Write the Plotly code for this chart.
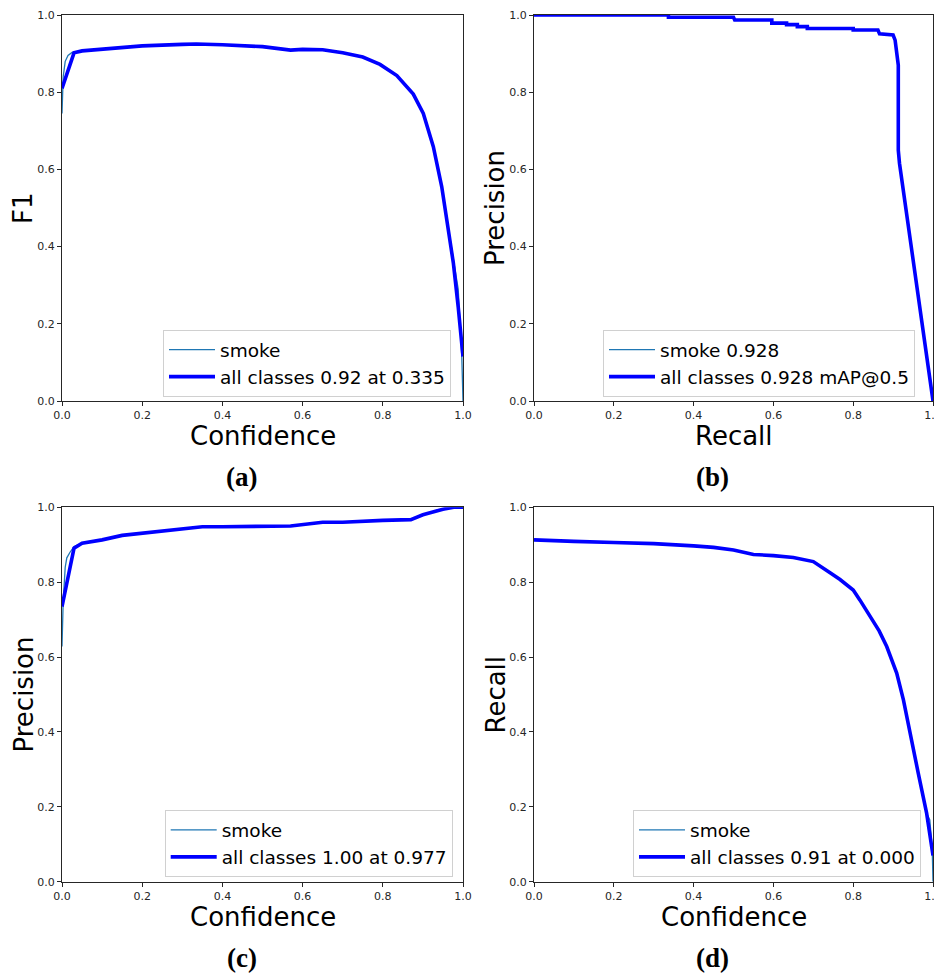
import plotly.graph_objects as go

# ---------------- data ----------------
# (a) F1 - Confidence
conf_a_all = [0, 0.03, 0.05, 0.1, 0.2, 0.3, 0.335, 0.4, 0.5, 0.57, 0.6, 0.65, 0.7, 0.75, 0.793,
              0.835, 0.876, 0.901, 0.926, 0.947, 0.963, 0.976, 0.988, 0.999, 1.0]
f1_all = [0.81, 0.902, 0.907, 0.912, 0.92, 0.924, 0.925, 0.923, 0.918, 0.909, 0.911, 0.91, 0.902, 0.891, 0.872,
          0.843, 0.795, 0.745, 0.659, 0.555, 0.452, 0.357, 0.244, 0.118, 0.115]
conf_a_smoke = [0, 0.003, 0.008, 0.015, 0.025, 0.035, 0.05, 0.1, 0.2, 0.3, 0.335, 0.4, 0.5, 0.57, 0.6, 0.65,
                0.7, 0.75, 0.793, 0.835, 0.876, 0.901, 0.926, 0.947, 0.963, 0.976, 0.988, 0.997, 1.0]
f1_smoke = [0.745, 0.84, 0.88, 0.895, 0.903, 0.905, 0.907, 0.912, 0.92, 0.924, 0.925, 0.923, 0.918, 0.909, 0.911,
            0.91, 0.902, 0.891, 0.872, 0.843, 0.795, 0.748, 0.659, 0.555, 0.452, 0.36, 0.29, 0.115, 0.0]

# (b) Precision - Recall
recall_b = [0, 0.337, 0.337, 0.5, 0.503, 0.596, 0.596, 0.633, 0.633, 0.66, 0.66, 0.685, 0.685, 0.8, 0.8,
            0.862, 0.866, 0.9, 0.905, 0.909, 0.911, 0.913, 0.913, 0.916, 1.0]
precision_b = [1.0, 1.0, 0.994, 0.994, 0.987, 0.987, 0.979, 0.979, 0.975, 0.975, 0.97, 0.97, 0.965, 0.965, 0.961,
               0.961, 0.951, 0.948, 0.935, 0.9, 0.883, 0.87, 0.65, 0.616, 0.0]

# (c) Precision - Confidence
conf_c_all = [0, 0.03, 0.05, 0.1, 0.15, 0.2, 0.3, 0.35, 0.4, 0.5, 0.57, 0.65, 0.7, 0.8, 0.85, 0.87, 0.9,
              0.95, 0.977, 1.0]
prec_all = [0.735, 0.891, 0.904, 0.913, 0.925, 0.931, 0.944, 0.948, 0.948, 0.95, 0.95, 0.96, 0.96, 0.965, 0.965,
            0.967, 0.98, 0.995, 1.0, 1.0]
conf_c_smoke = [0, 0.003, 0.008, 0.012, 0.02, 0.03, 0.05, 0.1, 0.15, 0.2, 0.3, 0.35, 0.4, 0.5, 0.57, 0.65, 0.7,
                0.8, 0.85, 0.87, 0.9, 0.95, 0.977, 1.0]
prec_smoke = [0.628, 0.75, 0.84, 0.865, 0.88, 0.895, 0.904, 0.913, 0.925, 0.931, 0.944, 0.948, 0.948, 0.95, 0.95,
              0.96, 0.96, 0.965, 0.965, 0.967, 0.98, 0.995, 1.0, 1.0]

# (d) Recall - Confidence
conf_d_all = [0, 0.05, 0.1, 0.2, 0.3, 0.4, 0.45, 0.5, 0.55, 0.6, 0.65, 0.7, 0.72, 0.742, 0.767, 0.8, 0.817,
              0.842, 0.865, 0.884, 0.909, 0.926, 0.942, 0.963, 0.984, 1.0]
rec_all = [0.913, 0.91, 0.909, 0.906, 0.903, 0.897, 0.893, 0.886, 0.874, 0.871, 0.866, 0.855, 0.842, 0.825, 0.807,
           0.779, 0.752, 0.708, 0.67, 0.628, 0.557, 0.485, 0.396, 0.29, 0.183, 0.07]
conf_d_smoke = [0, 0.05, 0.1, 0.2, 0.3, 0.4, 0.45, 0.5, 0.55, 0.6, 0.65, 0.7, 0.72, 0.742, 0.767, 0.8, 0.817,
                0.842, 0.865, 0.884, 0.909, 0.926, 0.942, 0.963, 0.984, 0.992, 0.998, 1.0]
rec_smoke = [0.913, 0.91, 0.909, 0.906, 0.903, 0.897, 0.893, 0.886, 0.874, 0.871, 0.866, 0.855, 0.842, 0.825, 0.807,
             0.779, 0.752, 0.708, 0.67, 0.628, 0.557, 0.485, 0.396, 0.29, 0.183, 0.165, 0.09, 0.0]

legend_labels = {
    "a": ("smoke", "all classes 0.92 at 0.335"),
    "b": ("smoke 0.928", "all classes 0.928 mAP@0.5"),
    "c": ("smoke", "all classes 1.00 at 0.977"),
    "d": ("smoke", "all classes 0.91 at 0.000"),
}
x_titles = {"a": "Confidence", "b": "Recall", "c": "Confidence", "d": "Confidence"}
y_titles = {"a": "F1", "b": "Precision", "c": "Precision", "d": "Recall"}
captions = {"a": "(a)", "b": "(b)", "c": "(c)", "d": "(d)"}
tick_vals = [0.0, 0.2, 0.4, 0.6, 0.8, 1.0]

# ---------------- layout ----------------
W, H = 942, 973
OFF = 8  # page body margin: the figure starts 8 px in from the window edge
SMOKE_C = "#1f77b4"
ALL_C = "#0000ff"
INK = "#262626"


def px(x):
    return (x - OFF) / W


def py(y):
    return 1 - (y - OFF) / H


# window-pixel boxes of each axes: left, right, top, bottom
boxes = {
    "a": (62, 463, 15, 401),
    "b": (534, 933, 15, 401),
    "c": (62, 463, 507.3, 881.7),
    "d": (534, 933, 507.3, 881.7),
}
legend_pos = {  # right edge, bottom edge in window px
    "a": (451, 397),
    "b": (915, 397),
    "c": (452.7, 877.3),
    "d": (921, 877.3),
}

series = {
    "a": (conf_a_smoke, f1_smoke, conf_a_all, f1_all),
    "b": (recall_b, precision_b, recall_b, precision_b),
    "c": (conf_c_smoke, prec_smoke, conf_c_all, prec_all),
    "d": (conf_d_smoke, rec_smoke, conf_d_all, rec_all),
}

fig = go.Figure()
annotations = []
layout = dict(
    width=W, height=H, margin=dict(l=0, r=0, t=0, b=0, autoexpand=False),
    paper_bgcolor="white", plot_bgcolor="white",
    font=dict(family="DejaVu Sans", color=INK),
    showlegend=True,
)

for i, key in enumerate(["a", "b", "c", "d"]):
    n = "" if i == 0 else str(i + 1)
    xs, ys, xa, ya = series[key]
    leg = "legend" + n
    fig.add_trace(go.Scatter(x=xs, y=ys, mode="lines", name=legend_labels[key][0],
                             line=dict(color=SMOKE_C, width=1.3), xaxis="x" + n, yaxis="y" + n,
                             legend=leg, hoverinfo="skip"))
    fig.add_trace(go.Scatter(x=xa, y=ya, mode="lines", name=legend_labels[key][1],
                             line=dict(color=ALL_C, width=3.6), xaxis="x" + n, yaxis="y" + n,
                             legend=leg, hoverinfo="skip"))
    l, r, t, b = boxes[key]
    axcommon = dict(range=[0, 1], tickvals=tick_vals, tickformat=".1f", showgrid=False, zeroline=False,
                    showline=True, mirror=True, linecolor=INK, linewidth=1, ticks="outside", ticklen=4,
                    tickcolor=INK, tickfont=dict(family="DejaVu Sans", size=11, color=INK), fixedrange=True,
                    automargin=False)
    layout["xaxis" + n] = dict(axcommon, domain=[px(l), px(r)], anchor="y" + n)
    layout["yaxis" + n] = dict(axcommon, domain=[py(b), py(t)], anchor="x" + n)
    lx, ly = legend_pos[key]
    layout[leg] = dict(x=px(lx), y=py(ly), xanchor="right", yanchor="bottom", xref="paper", yref="paper",
                       bgcolor="white", bordercolor="#d0d0d0", borderwidth=1, itemwidth=46,
                       font=dict(family="DejaVu Sans", size=18.5, color="black"))
    # axis titles
    cx = (l + r) / 2
    cy = (t + b) / 2
    annotations.append(dict(text=x_titles[key], x=px(cx), y=py(b + 35), xref="paper", yref="paper",
                            xanchor="center", yanchor="middle", showarrow=False,
                            font=dict(family="DejaVu Sans", size=26, color="black")))
    annotations.append(dict(text=y_titles[key], x=px(l - 39), y=py(cy), xref="paper", yref="paper",
                            xanchor="center", yanchor="middle", showarrow=False, textangle=-90,
                            font=dict(family="DejaVu Sans", size=26, color="black")))
    annotations.append(dict(text="<b>" + captions[key] + "</b>", x=px(cx - 21), y=py(b + 76),
                            xref="paper", yref="paper", xanchor="center", yanchor="middle", showarrow=False,
                            font=dict(family="Liberation Serif", size=27, color="black")))

layout["annotations"] = annotations
fig.update_layout(**layout)
fig.write_html("out.html")
